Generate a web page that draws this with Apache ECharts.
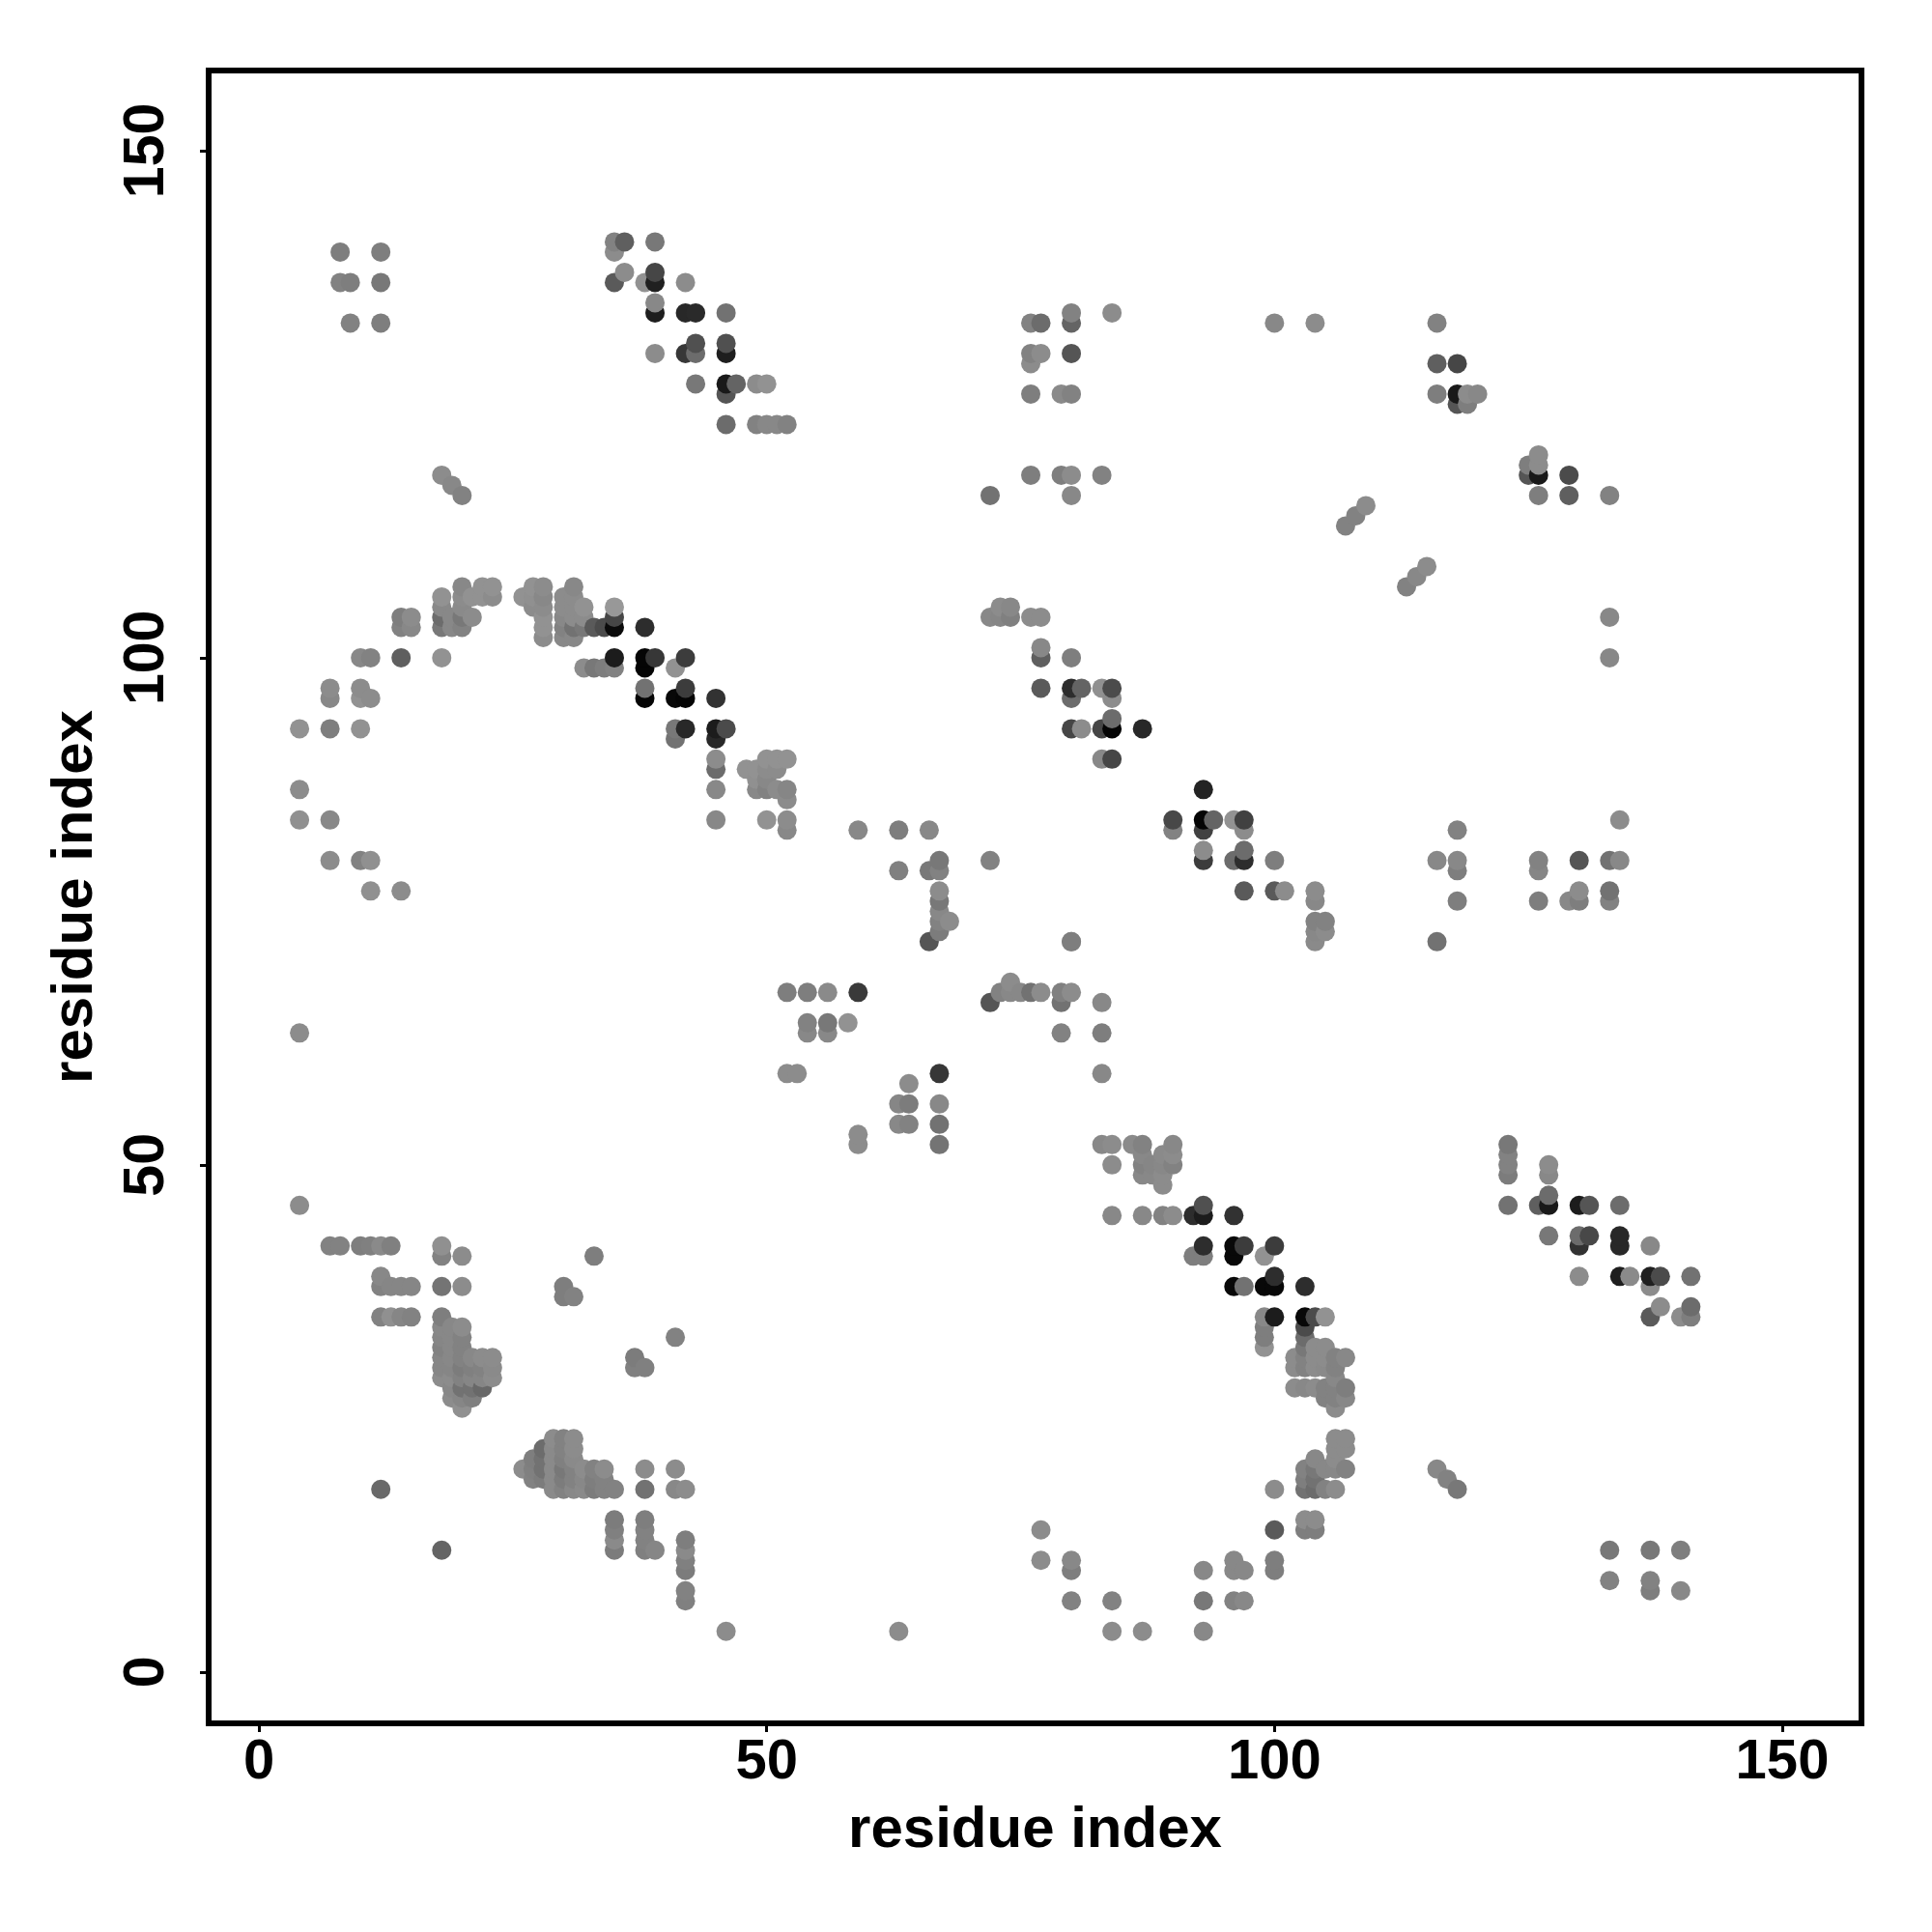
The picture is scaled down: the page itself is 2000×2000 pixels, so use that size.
<!DOCTYPE html>
<html>
<head>
<meta charset="utf-8">
<style>html,body{margin:0;padding:0;background:#fff}#c{width:2000px;height:2000px}</style>
<script src="https://cdn.jsdelivr.net/npm/echarts@6/dist/echarts.min.js"></script>
</head>
<body>
<div id="c"></div>
<script>
// Each row: [residue y, x1, gray1, x2, gray2, ...]
const tickLabels = [0, 50, 100, 150];
const axisTitle = 'residue index';
const lowerLeft = [
 [46, 4,140],
 [42, 7,130, 8,130, 10,126, 11,128, 12,138, 13,128, 18,144],
 [41, 18,130, 20,140, 33,126],
 [39, 12,136],
 [38, 12,130, 13,134, 14,134, 15,134, 18,116, 20,140, 30,126],
 [37, 30,126, 31,130],
 [35, 12,130, 13,144, 14,134, 15,130, 18,126],
 [34, 18,136, 19,136, 20,140],
 [33, 18,134, 19,136, 20,130, 41,130],
 [32, 18,130, 19,136, 20,130],
 [31, 18,134, 19,136, 20,130, 21,136, 22,140, 23,140, 37,124],
 [30, 18,134, 19,134, 20,124, 21,128, 22,130, 23,138, 37,128, 38,128],
 [29, 18,140, 19,140, 20,130, 21,134, 22,134, 23,140],
 [28, 19,136, 20,114, 21,114, 22,104],
 [27, 19,140, 20,134, 21,128],
 [26, 20,144],
 [23, 29,140, 30,130, 31,140],
 [22, 28,108, 29,138, 30,130, 31,140],
 [21, 27,126, 28,114, 29,138, 30,128, 31,138],
 [20, 26,140, 27,128, 28,114, 29,138, 30,120, 31,130, 32,140, 33,130, 34,140, 38,140, 41,140],
 [19, 27,130, 28,124, 29,138, 30,124, 31,130, 32,136, 33,126, 34,130],
 [18, 12,105, 29,138, 30,130, 31,136, 32,138, 33,124, 34,130, 35,130, 38,114, 41,136, 42,140],
 [15, 35,124, 38,126],
 [14, 35,128, 38,130],
 [13, 35,138, 38,130, 42,126],
 [12, 18,100, 35,124, 38,128, 39,134, 42,138],
 [11, 42,128],
 [10, 42,124],
 [8, 42,130],
 [7, 42,128],
 [4, 46,140]
];
const upperLeft = [
 [140, 8,126, 12,126],
 [137, 8,130, 9,126, 12,120],
 [133, 9,130, 12,126],
 [141, 35,130, 36,95, 39,120],
 [140, 35,140],
 [138, 36,140, 39,70],
 [137, 35,90, 38,146, 39,32, 42,140],
 [135, 39,136],
 [134, 39,30, 42,40, 43,42, 46,114],
 [131, 43,80, 46,80],
 [130, 39,140, 42,55, 43,108, 46,30],
 [127, 43,120, 46,25, 47,100, 49,140, 50,146],
 [126, 46,85],
 [123, 46,108, 49,130, 50,136, 51,136, 52,130],
 [118, 18,140],
 [117, 19,136],
 [116, 20,130],
 [107, 20,136, 22,146, 23,146, 27,146, 28,140, 31,136],
 [106, 18,146, 20,140, 21,146, 22,146, 23,140, 26,146, 27,144, 28,136, 30,140, 31,140],
 [105, 18,136, 20,138, 27,140, 28,140, 30,140, 31,140, 32,146, 35,152],
 [104, 14,126, 15,140, 18,108, 19,136, 20,120, 21,140, 28,146, 30,136, 31,140, 32,140, 35,70],
 [103, 14,130, 15,136, 18,120, 19,136, 20,130, 28,146, 30,130, 31,114, 32,120, 33,90, 34,75, 35,10, 38,45],
 [102, 28,140, 30,136, 31,136],
 [100, 10,136, 11,130, 14,95, 18,146, 35,28, 38,5, 39,55, 42,60],
 [99, 32,140, 33,120, 34,126, 35,130, 38,5, 41,146],
 [97, 7,140, 10,140, 38,114, 42,60],
 [96, 7,136, 10,146, 11,140, 38,5, 41,8, 42,5, 45,50],
 [93, 4,146, 7,126, 10,146, 41,120, 42,40, 45,28, 46,75],
 [92, 41,114, 45,40],
 [90, 45,140, 50,146, 51,146, 52,146],
 [89, 45,108, 48,146, 49,146, 50,140, 51,140],
 [88, 49,144, 50,136],
 [87, 4,140, 45,136, 49,136, 50,130, 51,140, 52,134],
 [86, 52,140],
 [84, 4,144, 7,136, 45,136, 50,146, 52,140],
 [83, 52,136],
 [80, 7,140, 10,130, 11,144],
 [77, 11,144, 14,140],
 [63, 4,140]
];
const middle = [
 [83, 59,136, 63,126, 66,136],
 [80, 67,120, 72,130],
 [79, 63,128, 66,120, 67,130],
 [77, 67,140],
 [76, 67,120],
 [75, 67,136],
 [74, 67,130, 68,140],
 [73, 67,124],
 [72, 66,85, 80,130],
 [68, 74,140],
 [67, 52,126, 54,126, 56,138, 59,58, 73,130, 74,136, 75,136, 76,114, 77,140, 79,128, 80,140],
 [66, 72,85, 79,114, 83,136],
 [64, 54,130, 56,120, 58,146],
 [63, 54,136, 56,136, 79,130, 83,126],
 [59, 52,140, 53,140, 67,55, 83,136],
 [58, 64,140],
 [56, 63,134, 64,124, 67,136],
 [54, 63,136, 64,130, 67,114],
 [53, 59,140],
 [52, 59,140, 67,116, 83,136, 84,140, 86,138, 87,130, 90,136],
 [51, 87,136, 89,138, 90,140],
 [50, 84,140, 87,130, 88,134, 89,136, 90,130],
 [49, 87,136, 88,136, 89,140],
 [48, 89,140]
];
const upperRight = [
 [134, 80,130, 84,140],
 [133, 76,130, 77,108, 80,100, 100,136, 104,140, 116,130],
 [130, 76,130, 77,140, 80,85],
 [129, 76,140, 116,95, 118,70],
 [126, 76,126, 79,138, 80,130, 116,126, 118,25, 119,140, 120,136],
 [125, 118,85, 119,126],
 [120, 126,140],
 [119, 125,126, 126,140],
 [118, 76,126, 79,126, 80,140, 83,130, 125,85, 126,25, 129,75],
 [116, 72,114, 80,136, 126,126, 129,95, 133,130],
 [115, 109,140],
 [114, 108,130],
 [113, 107,130],
 [109, 115,140],
 [108, 114,136],
 [107, 113,130],
 [105, 73,140, 74,136],
 [104, 72,136, 73,134, 74,128, 76,140, 77,140, 133,136],
 [101, 77,136],
 [100, 77,95, 80,126, 133,136],
 [97, 77,90, 80,45, 81,100, 83,144, 84,75],
 [96, 80,108, 84,140],
 [94, 84,108],
 [93, 80,70, 81,140, 83,70, 84,5, 87,40],
 [90, 83,136, 84,70],
 [87, 93,35],
 [84, 90,72, 93,5, 94,100, 96,146, 97,65, 134,140],
 [83, 90,130, 93,65, 97,140, 118,130],
 [81, 93,140, 97,108],
 [80, 93,60, 96,108, 97,45, 100,126, 116,136, 118,136, 126,130, 130,85, 133,114, 134,136],
 [79, 118,126, 126,134],
 [77, 97,90, 100,90, 101,140, 104,140, 130,140, 133,114],
 [76, 104,136, 118,126, 126,126, 129,136, 130,126, 133,130],
 [74, 104,130, 105,130],
 [73, 104,136, 105,140],
 [72, 80,126, 104,138, 116,114]
];
const lowerRight = [
 [52, 123,120],
 [51, 123,130],
 [50, 123,130, 127,140],
 [49, 123,124, 127,136],
 [47, 127,108],
 [46, 93,80, 123,114, 126,95, 127,25, 130,28, 131,85, 134,108],
 [45, 84,136, 87,136, 89,130, 90,140, 92,45, 93,28, 96,50],
 [43, 127,120, 130,108, 131,72, 134,40],
 [42, 93,45, 96,8, 97,60, 100,60, 130,50, 134,40, 137,136],
 [41, 92,126, 93,126, 96,8, 99,146],
 [39, 100,45, 130,140, 134,30, 135,138, 137,32, 138,75, 141,114],
 [38, 96,8, 97,114, 99,8, 100,8, 103,45, 137,140],
 [36, 138,140, 141,108],
 [35, 99,136, 100,28, 103,8, 104,75, 105,146, 137,90, 140,140, 141,126],
 [34, 99,126, 103,75],
 [33, 99,126, 103,108],
 [32, 99,146, 103,120, 104,140, 105,140],
 [31, 102,140, 103,130, 104,140, 105,140, 106,130, 107,136],
 [30, 102,140, 103,130, 104,140, 105,138, 106,130],
 [29, 106,136],
 [28, 102,140, 103,136, 104,140, 105,130, 106,130, 107,126],
 [27, 105,130, 106,130, 107,136],
 [26, 106,140],
 [23, 106,140, 107,140],
 [22, 106,140, 107,140],
 [21, 104,136, 106,140],
 [20, 103,130, 104,120, 105,136, 106,136, 107,130, 116,136],
 [19, 103,126, 104,114, 117,130],
 [18, 100,140, 103,114, 104,108, 105,130, 106,140, 118,120],
 [15, 103,140, 104,140],
 [14, 77,140, 100,90, 103,126, 104,126],
 [12, 133,120, 137,120, 140,126],
 [11, 77,140, 80,136, 96,136, 100,126],
 [10, 80,126, 93,136, 96,136, 97,136, 100,126],
 [9, 133,130, 137,130],
 [8, 137,126, 140,136],
 [7, 80,130, 84,130, 93,120, 96,130, 97,136],
 [4, 63,140, 84,140, 87,140, 93,136]
];
const allRows = [].concat(lowerLeft, upperLeft, middle, upperRight, lowerRight);
const contacts = [];
allRows.forEach(function (r) {
  for (let i = 1; i < r.length; i += 2) contacts.push([r[i], r[0], r[i + 1]]);
});
// Drawn column by column, bottom to top, as in the reference.
contacts.sort(function (a, b) { return a[0] - b[0] || a[1] - b[1]; });

const chart = echarts.init(document.getElementById('c'), null, { renderer: 'canvas' });
const font = { fontFamily: 'Liberation Sans', fontWeight: 'bold', fontSize: 58, color: '#000' };
function axis(extra) {
  return Object.assign({
    type: 'value',
    name: axisTitle,
    nameLocation: 'middle',
    splitLine: { show: false },
    axisLine: { show: false, onZero: false },
    axisTick: { show: true, length: 9, customValues: tickLabels, lineStyle: { color: '#000', width: 3 } }
  }, extra);
}
chart.setOption({
  animation: false,
  backgroundColor: '#fff',
  grid: { left: 216, right: 73, top: 73, bottom: 216, show: true, borderColor: '#000', borderWidth: 6, backgroundColor: 'transparent' },
  xAxis: axis({
    min: -4.95,
    max: 157.8,
    nameGap: 81,
    nameTextStyle: Object.assign({}, font, { fontSize: 60 }),
    axisLabel: Object.assign({ customValues: tickLabels, margin: 12 }, font)
  }),
  yAxis: axis({
    min: -5.07,
    max: 157.9,
    nameGap: 108,
    nameRotate: 90,
    nameTextStyle: Object.assign({}, font, { fontSize: 60 }),
    axisLabel: Object.assign({ customValues: tickLabels, margin: 34, rotate: 90 }, font, { fontSize: 59 })
  }),
  series: [{
    type: 'scatter',
    symbol: 'circle',
    symbolSize: 20,
    clip: false,
    large: false,
    itemStyle: { opacity: 1 },
    data: contacts.map(function (c) {
      const g = c[2];
      return { value: [c[0], c[1]], itemStyle: { opacity: 1, color: 'rgb(' + g + ',' + g + ',' + g + ')' } };
    })
  }]
});
</script>
</body>
</html>
